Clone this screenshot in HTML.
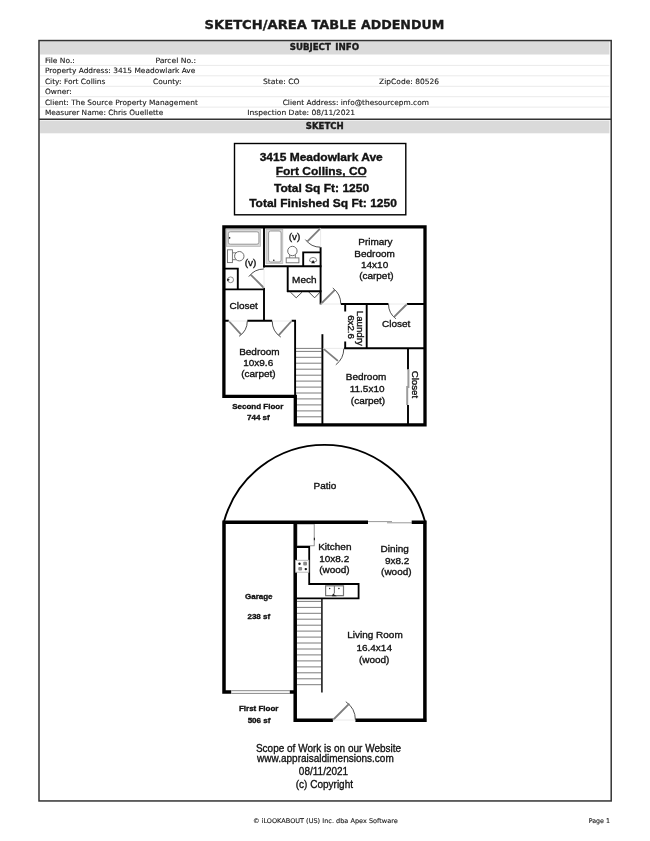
<!DOCTYPE html>
<html lang="en"><head><meta charset="utf-8"><title>Sketch/Area Table Addendum</title>
<style>html,body{margin:0;padding:0;background:#fff}svg{display:block;will-change:transform;filter:blur(.3px)}.v{font-family:"DejaVu Sans", "Liberation Sans", sans-serif;fill:#1a1a1a;stroke:#1a1a1a;stroke-width:.12px}.a{font-family:"Liberation Sans", sans-serif;fill:#111;stroke:#111;stroke-width:.34px}.w{stroke:#000;fill:none;stroke-linecap:butt}.g{stroke:#8a8a8a;fill:none}</style></head><body>
<svg width="650" height="841" viewBox="0 0 650 841">
<rect x="0" y="0" width="650" height="841" fill="#fff"/>
<g id="frame">
<rect x="40.1" y="41.2" width="569.3" height="13.3" fill="#dadada"/>
<rect x="40.1" y="120.6" width="569.3" height="12.7" fill="#dadada"/>
<line x1="40.1" y1="65.4" x2="609.4" y2="65.4" stroke="#eaeaea" stroke-width="1"/>
<line x1="40.1" y1="75.8" x2="609.4" y2="75.8" stroke="#eaeaea" stroke-width="1"/>
<line x1="40.1" y1="86.3" x2="609.4" y2="86.3" stroke="#eaeaea" stroke-width="1"/>
<line x1="40.1" y1="96.7" x2="609.4" y2="96.7" stroke="#eaeaea" stroke-width="1"/>
<line x1="40.1" y1="107.1" x2="609.4" y2="107.1" stroke="#eaeaea" stroke-width="1"/>
<rect x="39" y="40.55" width="572.2" height="760.4" fill="none" stroke="#333" stroke-width="1.5"/>
<line x1="39" y1="119.3" x2="611.2" y2="119.3" stroke="#333" stroke-width="1.5"/>
</g>
<g id="header-text">
<text class="v" y="28.7" font-size="12.60" font-weight="bold" style="stroke-width:.35px"><tspan x="204.6" textLength="102.3" lengthAdjust="spacingAndGlyphs">SKETCH/AREA</tspan> <tspan x="311.5" textLength="44.8" lengthAdjust="spacingAndGlyphs">TABLE</tspan> <tspan x="361.0" textLength="83.2" lengthAdjust="spacingAndGlyphs">ADDENDUM</tspan></text>
<text class="v" y="50.2" font-size="8.00" font-weight="bold" style="stroke-width:.35px"><tspan x="289.8" textLength="41.0" lengthAdjust="spacingAndGlyphs">SUBJECT</tspan> <tspan x="335.2" textLength="23.9" lengthAdjust="spacingAndGlyphs">INFO</tspan></text>
<text class="v" x="305.8" y="129.4" font-size="8.00" textLength="38.0" lengthAdjust="spacingAndGlyphs" font-weight="bold" style="stroke-width:.35px">SKETCH</text>
<text class="v" x="44.9" y="62.7" font-size="7.30" textLength="30.0" lengthAdjust="spacingAndGlyphs">File No.:</text>
<text class="v" x="155.4" y="62.7" font-size="7.30" textLength="40.6" lengthAdjust="spacingAndGlyphs">Parcel No.:</text>
<text class="v" x="44.9" y="73.1" font-size="7.30" textLength="150.4" lengthAdjust="spacingAndGlyphs">Property Address: 3415 Meadowlark Ave</text>
<text class="v" x="44.9" y="83.6" font-size="7.30" textLength="60.6" lengthAdjust="spacingAndGlyphs">City: Fort Collins</text>
<text class="v" x="153.0" y="83.6" font-size="7.30" textLength="28.5" lengthAdjust="spacingAndGlyphs">County:</text>
<text class="v" x="263.0" y="83.6" font-size="7.30" textLength="36.6" lengthAdjust="spacingAndGlyphs">State: CO</text>
<text class="v" x="379.1" y="83.6" font-size="7.30" textLength="59.9" lengthAdjust="spacingAndGlyphs">ZipCode: 80526</text>
<text class="v" x="44.9" y="94.0" font-size="7.30" textLength="26.8" lengthAdjust="spacingAndGlyphs">Owner:</text>
<text class="v" x="44.9" y="104.5" font-size="7.30" textLength="152.9" lengthAdjust="spacingAndGlyphs">Client: The Source Property Management</text>
<text class="v" x="282.7" y="104.5" font-size="7.30" textLength="146.2" lengthAdjust="spacingAndGlyphs">Client Address: info@thesourcepm.com</text>
<text class="v" x="44.9" y="115.0" font-size="7.30" textLength="118.4" lengthAdjust="spacingAndGlyphs">Measurer Name: Chris Ouellette</text>
<text class="v" x="247.2" y="115.0" font-size="7.30" textLength="107.9" lengthAdjust="spacingAndGlyphs">Inspection Date: 08/11/2021</text>
<text class="v" x="253.0" y="823.2" font-size="6.40" textLength="144.7" lengthAdjust="spacingAndGlyphs">© iLOOKABOUT (US) Inc. dba Apex Software</text>
<text class="v" x="588.7" y="823.2" font-size="6.40" textLength="21.3" lengthAdjust="spacingAndGlyphs">Page 1</text>
</g>
<g id="titlebox">
<rect x="234.5" y="143.5" width="171.3" height="71.3" fill="#fff" stroke="#000" stroke-width="1.4"/>
<text class="a" transform="translate(321.20 161.1) scale(1.132 1)" font-size="10.60" font-weight="bold" text-anchor="middle">3415 Meadowlark Ave</text>
<text class="a" transform="translate(321.30 175.2) scale(1.132 1)" font-size="10.60" font-weight="bold" text-anchor="middle">Fort Collins, CO</text>
<rect x="276.3" y="176.2" width="90" height="1" fill="#111"/>
<text class="a" transform="translate(321.55 192.4) scale(1.132 1)" font-size="10.60" font-weight="bold" text-anchor="middle">Total Sq Ft: 1250</text>
<text class="a" transform="translate(323.00 206.9) scale(1.132 1)" font-size="10.60" font-weight="bold" text-anchor="middle">Total Finished Sq Ft: 1250</text>
</g>
<g id="second-floor">
<line x1="296" y1="348.4" x2="321.6" y2="348.4" stroke="#7d7d7d" stroke-width="1"/>
<line x1="296" y1="351.4" x2="321.6" y2="351.4" stroke="#7d7d7d" stroke-width="1"/>
<line x1="296" y1="357.3" x2="321.6" y2="357.3" stroke="#7d7d7d" stroke-width="1"/>
<line x1="296" y1="363.2" x2="321.6" y2="363.2" stroke="#7d7d7d" stroke-width="1"/>
<line x1="296" y1="369.2" x2="321.6" y2="369.2" stroke="#7d7d7d" stroke-width="1"/>
<line x1="296" y1="375.2" x2="321.6" y2="375.2" stroke="#7d7d7d" stroke-width="1"/>
<line x1="296" y1="381.1" x2="321.6" y2="381.1" stroke="#7d7d7d" stroke-width="1"/>
<line x1="296" y1="387.1" x2="321.6" y2="387.1" stroke="#7d7d7d" stroke-width="1"/>
<line x1="296" y1="393.0" x2="321.6" y2="393.0" stroke="#7d7d7d" stroke-width="1"/>
<line x1="296" y1="398.9" x2="321.6" y2="398.9" stroke="#7d7d7d" stroke-width="1"/>
<line x1="296" y1="404.9" x2="321.6" y2="404.9" stroke="#7d7d7d" stroke-width="1"/>
<line x1="296" y1="410.9" x2="321.6" y2="410.9" stroke="#7d7d7d" stroke-width="1"/>
<line x1="296" y1="416.8" x2="321.6" y2="416.8" stroke="#7d7d7d" stroke-width="1"/>
<rect x="226.4" y="229.4" width="34.2" height="17" fill="#d8d8d8" stroke="#b4b4b4" stroke-width="0.7"/>
<rect x="228.3" y="231.8" width="30.6" height="12.4" rx="2" fill="#fff" stroke="#8f8f8f" stroke-width="0.9"/>
<circle cx="229.6" cy="237.9" r="0.8" fill="#111"/>
<rect x="266" y="229.4" width="16.8" height="34" fill="#d8d8d8" stroke="#b4b4b4" stroke-width="0.7"/>
<rect x="268.6" y="231" width="12.5" height="31" rx="2" fill="#fff" stroke="#8f8f8f" stroke-width="0.9"/>
<circle cx="273.8" cy="260.3" r="0.8" fill="#111"/>
<rect x="227.5" y="249.8" width="4.9" height="12.8" fill="#fff" stroke="#6e6e6e" stroke-width="0.9"/>
<path d="M232.4,252.8 H236 M232.4,259.7 H236" stroke="#6e6e6e" stroke-width="0.9"/>
<circle cx="239.3" cy="256.2" r="4.7" fill="#fff" stroke="#6e6e6e" stroke-width="1"/>
<rect x="286.2" y="257.9" width="12.7" height="4.9" fill="#fff" stroke="#6e6e6e" stroke-width="0.9"/>
<path d="M289.7,254 V257.9 M295.4,254 V257.9" stroke="#6e6e6e" stroke-width="0.9"/>
<circle cx="292.4" cy="251" r="4.7" fill="#fff" stroke="#6e6e6e" stroke-width="1"/>
<circle cx="230.6" cy="279.8" r="2.9" fill="none" stroke="#6e6e6e" stroke-width="0.8"/>
<path d="M227.2,278.4 L229.8,279.8 L227.2,281.2 Z" fill="#111"/>
<path d="M309.4,261 A3.7,3.6 0 1 1 316.8,261 Q313.1,263.6 309.4,261 Z" fill="none" stroke="#6e6e6e" stroke-width="0.8"/>
<path d="M311.2,263.2 L313.1,260 L315,263.2 Z" fill="#111"/>
<path d="M223.9,226.9 H425 V424.8 H295.3 V396.3 H223.9 Z" fill="none" stroke="#000" stroke-width="3.30" stroke-linejoin="miter"/>
<path d="M264,228 V267.4" fill="none" stroke="#000" stroke-width="1.90"/>
<path d="M264,288 V321" fill="none" stroke="#000" stroke-width="1.90"/>
<path d="M263,266.2 H321.5" fill="none" stroke="#000" stroke-width="1.90"/>
<path d="M225,268.6 H238.7 M237.8,268 V289.4" fill="none" stroke="#000" stroke-width="1.90"/>
<path d="M225,289.4 H264.9" fill="none" stroke="#000" stroke-width="1.90"/>
<path d="M287.7,266.2 V292.1 M287,291.2 H321.5" fill="none" stroke="#000" stroke-width="1.90"/>
<path d="M303.2,251.5 V266.2 M302.3,252.4 H321" fill="none" stroke="#000" stroke-width="1.90"/>
<path d="M320.6,247.2 V304.4" fill="none" stroke="#000" stroke-width="1.90"/>
<path d="M340.8,304 H388.5 M407,304 H424" fill="none" stroke="#000" stroke-width="1.90"/>
<path d="M345.2,304 V311.5 M345.2,341.5 V349.1" fill="none" stroke="#000" stroke-width="1.90"/>
<path d="M366.7,304 V348.2" fill="none" stroke="#000" stroke-width="1.90"/>
<path d="M344.3,348.2 H424" fill="none" stroke="#000" stroke-width="1.90"/>
<path d="M408,348.2 V369.4 M408,405 V424" fill="none" stroke="#000" stroke-width="1.90"/>
<path d="M322.4,334.2 V424" fill="none" stroke="#000" stroke-width="1.90"/>
<path d="M225,320.8 H228.8 M247.3,320.8 H272.2 M291.6,320.8 H296" fill="none" stroke="#000" stroke-width="1.90"/>
<path d="M295.1,320.8 V396.3" fill="none" stroke="#000" stroke-width="1.90"/>
<line x1="408.4" y1="369.4" x2="408.4" y2="388" stroke="#9c9c9c" stroke-width="2"/>
<line x1="407.2" y1="386" x2="407.2" y2="405" stroke="#9c9c9c" stroke-width="2"/>
<path d="M290.3,292 L296.2,297.8 L302.2,292 M308.8,292 L314.6,297.8 L320.2,292" fill="none" stroke="#222" stroke-width="0.8"/>
<path d="M264.0,269.0 A19.0,19.0 0 0 0 248.8,276.6" fill="none" stroke="#222" stroke-width="0.8"/>
<line x1="264.0" y1="288.0" x2="250.6" y2="274.6" stroke="#7d7d7d" stroke-width="1.8"/>
<line x1="264.0" y1="288.0" x2="264.0" y2="269.0" stroke="#e4e4e4" stroke-width="0.8"/>
<path d="M320.6,247.2 A19.0,19.0 0 0 1 305.4,239.6" fill="none" stroke="#222" stroke-width="0.8"/>
<line x1="320.6" y1="228.2" x2="307.2" y2="241.6" stroke="#7d7d7d" stroke-width="1.8"/>
<line x1="320.6" y1="228.2" x2="320.6" y2="247.2" stroke="#e4e4e4" stroke-width="0.8"/>
<path d="M340.8,304.0 A20.0,20.0 0 0 0 332.8,288.0" fill="none" stroke="#222" stroke-width="0.8"/>
<line x1="320.8" y1="304.0" x2="334.9" y2="289.9" stroke="#7d7d7d" stroke-width="1.8"/>
<line x1="320.8" y1="304.0" x2="340.8" y2="304.0" stroke="#e4e4e4" stroke-width="0.8"/>
<path d="M388.5,304.0 A18.5,18.5 0 0 0 395.9,318.8" fill="none" stroke="#222" stroke-width="0.8"/>
<line x1="407.0" y1="304.0" x2="393.9" y2="317.1" stroke="#7d7d7d" stroke-width="1.8"/>
<line x1="407.0" y1="304.0" x2="388.5" y2="304.0" stroke="#e4e4e4" stroke-width="0.8"/>
<path d="M343.8,348.4 A20.8,20.8 0 0 1 335.8,364.8" fill="none" stroke="#222" stroke-width="0.8"/>
<line x1="323.0" y1="348.4" x2="337.9" y2="360.9" stroke="#7d7d7d" stroke-width="1.8"/>
<line x1="323.0" y1="348.4" x2="343.8" y2="348.4" stroke="#e4e4e4" stroke-width="0.8"/>
<path d="M247.3,321.0 A18.5,18.5 0 0 1 239.1,336.3" fill="none" stroke="#222" stroke-width="0.8"/>
<line x1="228.8" y1="321.0" x2="241.2" y2="334.7" stroke="#7d7d7d" stroke-width="1.8"/>
<line x1="228.8" y1="321.0" x2="247.3" y2="321.0" stroke="#e4e4e4" stroke-width="0.8"/>
<path d="M272.2,321.0 A19.4,19.4 0 0 0 280.8,337.1" fill="none" stroke="#222" stroke-width="0.8"/>
<line x1="291.6" y1="321.0" x2="278.6" y2="335.4" stroke="#7d7d7d" stroke-width="1.8"/>
<line x1="291.6" y1="321.0" x2="272.2" y2="321.0" stroke="#e4e4e4" stroke-width="0.8"/>
<text class="a" transform="translate(250.50 266.0) scale(1.050 1)" font-size="9.50" text-anchor="middle">(v)</text>
<text class="a" transform="translate(294.60 240.0) scale(1.050 1)" font-size="9.50" text-anchor="middle">(v)</text>
<text class="a" transform="translate(304.30 283.0) scale(1.050 1)" font-size="9.50" text-anchor="middle">Mech</text>
<text class="a" transform="translate(375.40 245.0) scale(1.050 1)" font-size="9.50" text-anchor="middle">Primary</text>
<text class="a" transform="translate(374.60 256.8) scale(1.050 1)" font-size="9.50" text-anchor="middle">Bedroom</text>
<text class="a" transform="translate(374.60 267.8) scale(1.050 1)" font-size="9.50" text-anchor="middle">14x10</text>
<text class="a" transform="translate(376.30 278.6) scale(1.050 1)" font-size="9.50" text-anchor="middle">(carpet)</text>
<text class="a" transform="translate(243.70 309.0) scale(1.050 1)" font-size="9.50" text-anchor="middle">Closet</text>
<text class="a" transform="translate(396.20 327.1) scale(1.050 1)" font-size="9.50" text-anchor="middle">Closet</text>
<text class="a" transform="translate(259.40 354.8) scale(1.050 1)" font-size="9.50" text-anchor="middle">Bedroom</text>
<text class="a" transform="translate(258.20 366.4) scale(1.050 1)" font-size="9.50" text-anchor="middle">10x9.6</text>
<text class="a" transform="translate(258.40 377.4) scale(1.050 1)" font-size="9.50" text-anchor="middle">(carpet)</text>
<text class="a" transform="translate(366.00 380.0) scale(1.050 1)" font-size="9.50" text-anchor="middle">Bedroom</text>
<text class="a" transform="translate(367.10 392.1) scale(1.050 1)" font-size="9.50" text-anchor="middle">11.5x10</text>
<text class="a" transform="translate(368.00 403.9) scale(1.050 1)" font-size="9.50" text-anchor="middle">(carpet)</text>
<text class="a" transform="translate(357.1 328.3) rotate(90)" font-size="9.69" text-anchor="middle">Laundry</text>
<text class="a" transform="translate(347.8 327.0) rotate(90)" font-size="9.69" text-anchor="middle">6x2.6</text>
<text class="a" transform="translate(412.4 384.4) rotate(90)" font-size="9.69" text-anchor="middle">Closet</text>
<text class="a" x="257.8" y="408.7" font-size="8.00" text-anchor="middle" font-weight="bold">Second Floor</text>
<text class="a" x="258.4" y="419.7" font-size="8.00" text-anchor="middle" font-weight="bold">744 sf</text>
</g>
<g id="first-floor">
<path d="M224,521.6 A104.2,104.2 0 0 1 425,521.6" fill="none" stroke="#000" stroke-width="1.9"/>
<line x1="297" y1="601.4" x2="322" y2="601.4" stroke="#7d7d7d" stroke-width="1"/>
<line x1="297" y1="607.4" x2="322" y2="607.4" stroke="#7d7d7d" stroke-width="1"/>
<line x1="297" y1="613.3" x2="322" y2="613.3" stroke="#7d7d7d" stroke-width="1"/>
<line x1="297" y1="619.2" x2="322" y2="619.2" stroke="#7d7d7d" stroke-width="1"/>
<line x1="297" y1="625.2" x2="322" y2="625.2" stroke="#7d7d7d" stroke-width="1"/>
<line x1="297" y1="631.1" x2="322" y2="631.1" stroke="#7d7d7d" stroke-width="1"/>
<line x1="297" y1="637.1" x2="322" y2="637.1" stroke="#7d7d7d" stroke-width="1"/>
<line x1="297" y1="643.0" x2="322" y2="643.0" stroke="#7d7d7d" stroke-width="1"/>
<line x1="297" y1="649.0" x2="322" y2="649.0" stroke="#7d7d7d" stroke-width="1"/>
<line x1="297" y1="654.9" x2="322" y2="654.9" stroke="#7d7d7d" stroke-width="1"/>
<line x1="297" y1="660.9" x2="322" y2="660.9" stroke="#7d7d7d" stroke-width="1"/>
<line x1="297" y1="666.9" x2="322" y2="666.9" stroke="#7d7d7d" stroke-width="1"/>
<line x1="297" y1="672.8" x2="322" y2="672.8" stroke="#7d7d7d" stroke-width="1"/>
<line x1="297" y1="678.8" x2="322" y2="678.8" stroke="#7d7d7d" stroke-width="1"/>
<line x1="297" y1="684.7" x2="322" y2="684.7" stroke="#7d7d7d" stroke-width="1"/>
<line x1="321.9" y1="598.3" x2="321.9" y2="692.6" stroke="#2a2a2a" stroke-width="1.7"/>
<rect x="297" y="524" width="17.2" height="21.8" fill="none" stroke="#7a7a7a" stroke-width="0.8"/>
<path d="M314.4,537.8 V540.2" stroke="#222" stroke-width="1.1"/>
<path d="M296.5,547 H309.2 V584 H358.6 V598.4 H296.5" fill="none" stroke="#000" stroke-width="1.80"/>
<rect x="325.6" y="585.8" width="17.9" height="9.8" fill="#fff" stroke="#777" stroke-width="1.2"/>
<line x1="334.4" y1="585.8" x2="334.4" y2="593.4" stroke="#777" stroke-width="1.1"/>
<line x1="325.6" y1="596.8" x2="343.5" y2="596.8" stroke="#cfcfcf" stroke-width="0.7"/>
<circle cx="329.7" cy="588.5" r="0.7" fill="#111"/><circle cx="338.9" cy="588.5" r="0.7" fill="#111"/>
<path d="M331.8,596.2 L333.2,593.2 L334.2,594.6 L336.8,596.2 Z" fill="#222"/>
<line x1="231.4" y1="690.7" x2="289.8" y2="690.7" stroke="#7a7a7a" stroke-width="0.9"/>
<line x1="231.4" y1="693.4" x2="289.8" y2="693.4" stroke="#7a7a7a" stroke-width="0.9"/>
<line x1="368" y1="521.6" x2="392" y2="521.6" stroke="#999" stroke-width="1"/>
<line x1="387" y1="522.8" x2="411.7" y2="522.8" stroke="#999" stroke-width="1"/>
<path d="M368,522.3 H222.3 M224,522 V693.8 M222.3,692 H231.2 M289.8,692 H295.2" fill="none" stroke="#000" stroke-width="3.50"/>
<path d="M295.2,522 V722 M293.5,720.3 H332.9 M355.4,720.3 H426.7 M424.9,722 V520.6 M426.7,522.3 H411.7" fill="none" stroke="#000" stroke-width="3.50"/>
<rect x="295.6" y="560.3" width="13.2" height="11.9" fill="#fff" stroke="#b5b5b5" stroke-width="0.9"/>
<circle cx="299.5" cy="563.7" r="1.2" fill="#111"/><rect x="303.2" y="561.8" width="3.8" height="3.6" rx="1" fill="#8a8a8a"/>
<rect x="298.3" y="567" width="3.8" height="3.6" rx="1" fill="#8a8a8a"/><circle cx="305.8" cy="569.1" r="1.2" fill="#111"/>
<path d="M355.4,720.0 A22.4,22.4 0 0 0 345.8,701.7" fill="none" stroke="#222" stroke-width="0.8"/>
<line x1="333.0" y1="720.0" x2="349.3" y2="703.7" stroke="#7d7d7d" stroke-width="1.8"/>
<line x1="333.0" y1="720.0" x2="355.4" y2="720.0" stroke="#e4e4e4" stroke-width="0.8"/>
<text class="a" transform="translate(324.90 489.0) scale(1.050 1)" font-size="9.50" text-anchor="middle">Patio</text>
<text class="a" transform="translate(334.80 549.6) scale(1.050 1)" font-size="9.50" text-anchor="middle">Kitchen</text>
<text class="a" transform="translate(334.20 561.6) scale(1.050 1)" font-size="9.50" text-anchor="middle">10x8.2</text>
<text class="a" transform="translate(334.40 573.0) scale(1.050 1)" font-size="9.50" text-anchor="middle">(wood)</text>
<text class="a" transform="translate(394.60 552.2) scale(1.050 1)" font-size="9.50" text-anchor="middle">Dining</text>
<text class="a" transform="translate(397.10 563.8) scale(1.050 1)" font-size="9.50" text-anchor="middle">9x8.2</text>
<text class="a" transform="translate(396.30 575.4) scale(1.050 1)" font-size="9.50" text-anchor="middle">(wood)</text>
<text class="a" transform="translate(375.00 638.4) scale(1.050 1)" font-size="9.50" text-anchor="middle">Living Room</text>
<text class="a" transform="translate(374.20 651.3) scale(1.050 1)" font-size="9.50" text-anchor="middle">16.4x14</text>
<text class="a" transform="translate(374.20 663.2) scale(1.050 1)" font-size="9.50" text-anchor="middle">(wood)</text>
<text class="a" x="258.8" y="599.3" font-size="8.00" text-anchor="middle" font-weight="bold">Garage</text>
<text class="a" x="258.8" y="619.2" font-size="8.00" text-anchor="middle" font-weight="bold">238 sf</text>
<text class="a" x="258.7" y="711.0" font-size="8.00" text-anchor="middle" font-weight="bold">First Floor</text>
<text class="a" x="259.0" y="722.5" font-size="8.00" text-anchor="middle" font-weight="bold">506 sf</text>
<text class="a" transform="translate(328.50 751.7) scale(0.886 1)" font-size="11.30" text-anchor="middle">Scope of Work is on our Website</text>
<text class="a" transform="translate(325.40 762.3) scale(0.886 1)" font-size="11.30" text-anchor="middle">www.appraisaldimensions.com</text>
<text class="a" transform="translate(323.50 774.9) scale(0.886 1)" font-size="11.30" text-anchor="middle">08/11/2021</text>
<text class="a" transform="translate(324.40 787.5) scale(0.886 1)" font-size="11.30" text-anchor="middle">(c) Copyright</text>
</g>
</svg></body></html>
